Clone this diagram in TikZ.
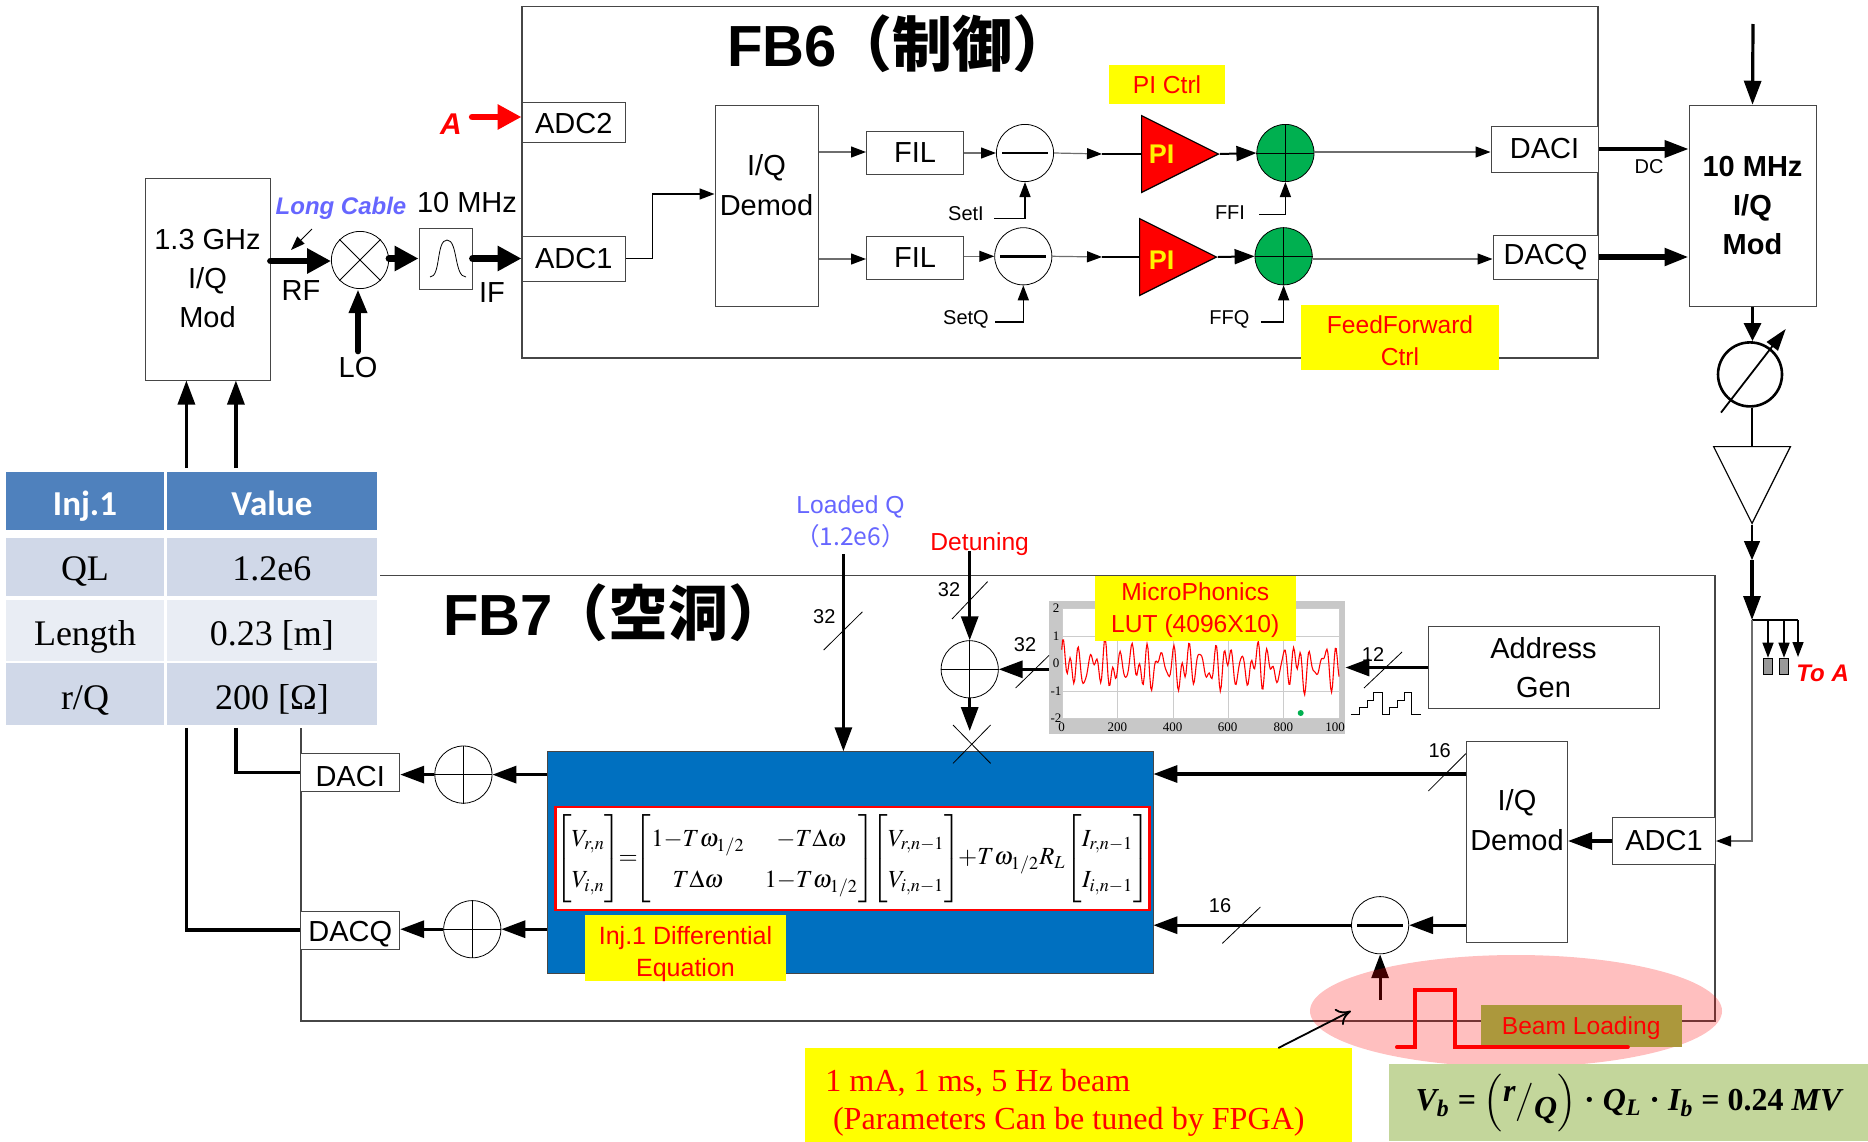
\documentclass[tikz,border=0pt]{standalone}
\usepackage{amsmath}
\usepackage{mathptmx}
\usepackage[no-math]{fontspec}
\setmainfont{Liberation Sans}
\newfontfamily\cjk{Noto Sans CJK JP}
\newfontfamily\cellfont{Liberation Serif}
\newfontfamily\headfont{Carlito}
\usetikzlibrary{
  shapes.geometric,
  arrows.meta,
  positioning,
  calc
}
\definecolor{framecolor}{RGB}{70, 70, 70}
\definecolor{linecolor}{RGB}{110, 110, 110}
\definecolor{notecolor}{RGB}{102, 102, 255}
\definecolor{sumcolor}{RGB}{0, 176, 80}
\definecolor{cavitycolor}{RGB}{0, 112, 192}
\definecolor{headcolor}{RGB}{79, 129, 189}
\definecolor{rowdark}{RGB}{208, 216, 232}
\definecolor{rowlight}{RGB}{233, 237, 244}
\definecolor{lutcolor}{RGB}{200, 200, 200}
\definecolor{beamtagcolor}{RGB}{172, 152, 60}
\definecolor{formulacolor}{RGB}{195, 214, 155}
\definecolor{tagyellow}{RGB}{255, 255, 0}
\begin{document}
\begin{tikzpicture}[
    x=0.5pt, y=-0.5pt,
    bigtext/.style={font=\fontsize{14.5}{19.5}\selectfont, align=center, inner sep=0pt},
    smalltext/.style={font=\fontsize{10}{12}\selectfont, inner sep=0pt},
    redtext/.style={font=\fontsize{12.3}{16}\selectfont, text=red, align=center, inner sep=0pt},
    notetext/.style={font=\fontsize{12.3}{16}\selectfont, text=notecolor, align=center, inner sep=0pt},
    toabel/.style={font=\bfseries\itshape\fontsize{15}{18}\selectfont, text=red, inner sep=0pt},
    titlelabel/.style={anchor=west, inner sep=0pt, font=\bfseries\fontsize{29}{32}\selectfont},
    framebox/.style={rectangle, draw=framecolor, line width=0.6pt, inner sep=0pt},
    blockbox/.style={rectangle, draw=framecolor, fill=white, line width=0.5pt, inner sep=0pt,
      font=\fontsize{14.5}{19.5}\selectfont, align=center},
    tagbox/.style={rectangle, fill=tagyellow, inner sep=0pt, text=red, align=center,
      font=\fontsize{12.3}{16}\selectfont},
    sumnode/.style={circle, draw=black, fill=white, line width=0.4pt, inner sep=0pt, minimum size=28.6pt},
    ampnode/.style={isosceles triangle, isosceles triangle stretches, draw=black, inner sep=0pt,
      minimum size=38.4pt, line width=0.6pt},
    cellbox/.style={rectangle, inner sep=0pt, font=\cellfont\fontsize{18}{20}\selectfont, text depth=4pt},
    headbox/.style={rectangle, fill=headcolor, text=white, inner sep=0pt, text height=19pt, text depth=4pt,
      font=\headfont\bfseries\fontsize{17.5}{20}\selectfont},
    thinline/.style={line width=0.6pt, draw=linecolor},
    thinarrow/.style={-{Triangle[length=7.5pt,width=5.5pt,color=black]}, line width=0.6pt, draw=linecolor},
    blackarrow/.style={-{Triangle[length=7.5pt,width=5.5pt]}, line width=0.7pt, draw=black},
    midarrow/.style={-{Triangle[length=12pt,width=8.5pt]}, line width=1.6pt, draw=black},
    boldarrow/.style={-{Triangle[length=12pt,width=12pt]}, line width=3.4pt, draw=black},
    heavyline/.style={line width=1.6pt, draw=black},
    slashmark/.style={line width=0.4pt, draw=black},
    minusbar/.style={line width=1.3pt, draw=black}
  ]
    \useasboundingbox (0,0) rectangle (1868,1141);

    % FB6
    \node[framebox, minimum width=538pt, minimum height=175.75pt] (fb6) at (1060,182.25) {};
    \node[titlelabel] (fb6title) at (727,44) {FB6\hspace{-2pt}{\cjk\fontsize{30}{32}\selectfont（制御）}};
    \node[blockbox, minimum width=51.75pt, minimum height=20pt, text height=12pt] (adc2) at (573.75,122) {ADC2};
    \node[blockbox, minimum width=51.75pt, minimum height=22.5pt] (adc1) at (573.75,258.5) {ADC1};
    \node[blockbox, minimum width=51.5pt, minimum height=100.75pt] (demoda) at (766.5,206) {};
    \node[bigtext, font=\fontsize{14.5}{20}\selectfont] (demodatext) at (766.5,185) {I/Q\\Demod};
    \node[blockbox, minimum width=48.5pt, minimum height=21.5pt] (fila) at (915,153) {FIL};
    \node[blockbox, minimum width=48.5pt, minimum height=21.5pt] (filb) at (915,257.5) {FIL};
    \node[sumnode] (suba) at (1025,153) {};
    \node[sumnode] (subb) at (1023.3,256.3) {};
    \node[ampnode, fill=red, anchor=lower side] (pia) at (1141,154) {};
    \node[ampnode, fill=red, anchor=lower side] (pib) at (1139,257) {};
    \node[inner sep=0pt, text=yellow, font=\bfseries\fontsize{13.5}{15}\selectfont] (piatext) at (1161.5,154.5) {PI};
    \node[inner sep=0pt, text=yellow, font=\bfseries\fontsize{13.5}{15}\selectfont] (pibtext) at (1161.5,260.5) {PI};
    \node[sumnode, fill=sumcolor] (adda) at (1285.4,153) {};
    \node[sumnode, fill=sumcolor] (addb) at (1283.6,256.3) {};
    \node[blockbox, minimum width=53.5pt, minimum height=23pt] (daca) at (1544.5,149) {DACI};
    \node[blockbox, minimum width=52.5pt, minimum height=22pt] (dacb) at (1545.5,257) {DACQ};
    \node[tagbox, minimum width=58pt, minimum height=19.3pt] (pitag) at (1167,84.3) {PI Ctrl};
    \node[smalltext] (seti) at (966,213.7) {SetI};
    \node[smalltext] (setq) at (966,319) {SetQ};
    \node[smalltext] (ffi) at (1230,212.6) {FFI};
    \node[smalltext] (ffq) at (1229.4,319) {FFQ};

    % FB6 wiring
    \draw[blackarrow] (adc1.east) -- ++(26.5,0) |- (demoda.west |- 0,194);
    \draw[thinarrow] (demoda.east |- 0,152) -- (fila.west |- 0,152);
    \draw[thinarrow] (demoda.east |- 0,259) -- (filb.west |- 0,259);
    \draw[thinarrow] (fila.east |- suba) -- (suba.west);
    \draw[thinarrow] (filb.east |- subb) -- (subb.west);
    \coordinate (pianchor) at (1102,154);
    \coordinate (pibnchor) at (1102,257);
    \draw[thinarrow] (suba.east) -- (pianchor);
    \draw[thinarrow] (subb.east) -- (pibnchor);
    \draw[line width=0.8pt] (pianchor) -- (pia.lower side);
    \draw[line width=0.8pt] (pibnchor) -- (pib.lower side);
    \draw[-{Triangle[length=10pt,width=7.5pt]}, line width=1pt] (pia.apex) -- (adda.west);
    \draw[-{Triangle[length=10pt,width=7.5pt]}, line width=1pt] (pib.apex) -- (addb.west);
    \draw[thinarrow] (adda.east |- 0,152) -- (daca.west |- 0,152);
    \draw[thinarrow] (addb.east |- 0,259) -- (dacb.west |- 0,259);
    \draw[blackarrow] (seti.east) ++(10,5) -| (suba.south);
    \draw[blackarrow] (setq.east) ++(6,3) -| (subb.south);
    \draw[blackarrow] (ffi.east) ++(14,2) -| (adda.south);
    \draw[blackarrow] (ffq.east) ++(11,3) -| (addb.south);
    \foreach \n in {suba,subb}
      \draw[minusbar] ($(\n.west)+(6,0)$) -- ($(\n.east)+(-6,0)$);
    \foreach \n in {adda,addb} {
      \draw[line width=0.5pt] (\n.west) -- (\n.east);
      \draw[line width=0.5pt] (\n.north) -- (\n.south);
    }
    \node[tagbox, minimum width=99pt, minimum height=32.35pt, text height=28pt, text depth=0pt] (fftag) at (1400,337.5) {FeedForward\\Ctrl};

    % RF input
    \node[blockbox, minimum width=62.5pt, minimum height=101pt] (modrf) at (207.5,279) {1.3 GHz\\I/Q\\Mod};
    \node[sumnode] (mixer) at (360,260) {};
    \draw[line width=0.4pt] (mixer.north west) -- (mixer.south east);
    \draw[line width=0.4pt] (mixer.north east) -- (mixer.south west);
    \node[blockbox, minimum width=26.5pt, minimum height=30.2pt] (filter) at (445.5,259) {};
    \draw[line width=0.4pt] (430,277) .. controls (441,277) and (436,240) .. (447,240) .. controls (458,240) and (454,277) .. (466,277);
    \node[bigtext] (tenmhz) at (467,203) {10 MHz};
    \node[bigtext] (rflabel) at (301,291) {RF};
    \node[bigtext] (iflabel) at (492,293) {IF};
    \node[bigtext] (lolabel) at (358,368) {LO};
    \node[inner sep=0pt, text=notecolor, font=\bfseries\itshape\fontsize{12}{14}\selectfont] (cablelabel) at (341,208) {Long Cable};
    \node[toabel] (alabel) at (451,124) {A};
    \coordinate (cabletail) at (312,229);
    \coordinate (cablehead) at (291,250);
    \draw[-{Triangle[length=7pt,width=5pt]}, line width=0.5pt] (cabletail) -- (cablehead);
    \draw[boldarrow, line cap=round] (modrf.east |- 0,261) -- (mixer.west |- 0,261);
    \draw[boldarrow, line cap=round] (mixer.east |- 0,258.5) -- (filter.west |- 0,258.5);
    \draw[boldarrow, line cap=round] (filter.east |- 0,258.5) -- (adc1.west);
    \draw[midarrow, line width=3pt, line cap=round] (lolabel.north) ++(0,-6) -- (mixer.south -| lolabel.north);
    \draw[boldarrow, draw=red, line cap=round] (alabel.east) ++(10,-7) -- (adc2.west |- 0,117);

    % IQ modulator and RF chain
    \node[blockbox, minimum width=63.5pt, minimum height=100.75pt, font=\bfseries\fontsize{14.5}{19.5}\selectfont] (mod) at (1752.5,206) {10 MHz\\I/Q\\Mod};
    \node[smalltext] (dclabel) at (1649,167) {DC};
    \coordinate (modtop) at (1753,24);
    \draw[midarrow] (modtop) -- (mod.north);
    \draw[-{Triangle[length=12pt,width=8.5pt]}, line width=2pt] (daca.east) -- (mod.west |- daca.east);
    \draw[-{Triangle[length=12pt,width=8.5pt]}, line width=2.6pt] (dacb.east) -- (mod.west |- dacb.east);
    \node[circle, draw=black, line width=1.3pt, inner sep=0pt, minimum size=32pt] (phase) at (1750,374.4) {};
    \draw[-{Triangle[length=9pt,width=8.5pt]}, line width=1.6pt] (mod.south) -- (mod.south |- phase.north);
    \draw[-{Triangle[length=11pt,width=7pt]}, line width=0.9pt] (1721,412.6) -- (1785.7,329);
    \node[ampnode, fill=white, shape border rotate=270, anchor=lower side] (amp) at (1752,446) {};
    \draw[line width=0.7pt] (phase.south -| amp.lower side) -- (amp.lower side);
    \coordinate (ampmid) at (1752,560);
    \coordinate (branch) at (1752,620);
    \draw[midarrow, line width=0.7pt, -{Triangle[length=9.5pt,width=8pt]}] (amp.apex) -- (ampmid);
    \draw[midarrow] (ampmid) -- (branch);
    \coordinate (branchend) at (1798,620);
    \draw[thinline, draw=black] (branch) -- (branchend);
    \node[rectangle, draw=black, fill=gray!80, line width=0.3pt, minimum width=4.5pt, minimum height=8pt, inner sep=0pt] (toa) at (1768,666) {};
    \node[rectangle, draw=black, fill=gray!80, line width=0.3pt, minimum width=4.5pt, minimum height=8pt, inner sep=0pt] (tob) at (1784,666) {};
    \node[toabel, anchor=west, font=\bfseries\itshape\fontsize{12}{14}\selectfont] (toalabel) at (1796,673) {To A};
    \draw[blackarrow] (1768,620) -- (toa.north);
    \draw[blackarrow] (1784,620) -- (tob.north);
    \draw[blackarrow] (branchend) -- ++(0,37);

    % FB7
    \node[framebox, minimum width=707pt, minimum height=222.75pt] (fb7) at (1007.9,798.25) {};
    \node[titlelabel] (fb7title) at (443,613) {FB7\hspace{-2pt}{\cjk\fontsize{30}{32}\selectfont（空洞）}};
    \node[rectangle, fill=white, inner sep=0pt, minimum width=187pt, minimum height=129pt] (tablebg) at (193,598.5) {};

    % parameter table
    \node[headbox, minimum width=79pt, minimum height=29.25pt] (inj) at (85,500.75) {Inj.1};
    \node[headbox, minimum width=105.1pt, minimum height=29.25pt] (val) at (271.9,500.75) {Value};
    \node[cellbox, fill=rowdark, minimum width=79pt, minimum height=29pt, text height=17pt] (ql) at (85,567) {QL};
    \node[cellbox, fill=rowdark, minimum width=105.1pt, minimum height=29pt, text height=17pt] (qlval) at (271.9,567) {1.2e6};
    \node[cellbox, fill=rowlight, minimum width=79pt, minimum height=30.5pt, text height=19pt] (len) at (85,630) {Length};
    \node[cellbox, fill=rowlight, minimum width=105.1pt, minimum height=30.5pt, text height=19pt] (lenval) at (271.9,630) {0.23 [m]};
    \node[cellbox, fill=rowdark, minimum width=79pt, minimum height=30.9pt, text height=20pt] (rq) at (85,693.6) {r/Q};
    \node[cellbox, fill=rowdark, minimum width=105.1pt, minimum height=30.9pt, text height=20pt] (rqval) at (271.9,693.6) {200 [Ω]};

    % table to modulator
    \coordinate (upa) at (186.4,468);
    \coordinate (upb) at (235.9,468);
    \draw[midarrow] (upa) -- (upa |- modrf.south);
    \draw[midarrow] (upb) -- (upb |- modrf.south);

    % cavity model
    \node[rectangle, draw=framecolor, fill=cavitycolor, minimum width=303pt, minimum height=110.85pt, inner sep=0pt] (cavity) at (850,862.5) {};
    \node[rectangle, draw=red, fill=white, line width=1.3pt, minimum width=295.5pt, minimum height=51.5pt, inner sep=0pt] (eqbox) at (852.5,858.5)
      {\fontsize{12.3}{15}\selectfont\def\arraystretch{1.39}\thickmuskip=0mu\medmuskip=0mu$\begin{bmatrix}V_{r,n}\\V_{i,n}\end{bmatrix}\!=\!\begin{bmatrix}1-T\omega_{1/2} & -T\Delta\omega\\ T\Delta\omega & 1-T\omega_{1/2}\end{bmatrix}\!\!\begin{bmatrix}V_{r,n-1}\\V_{i,n-1}\end{bmatrix}\!+T\omega_{1/2}R_L\!\begin{bmatrix}I_{r,n-1}\\I_{i,n-1}\end{bmatrix}$};
    \node[tagbox, minimum width=100.5pt, minimum height=32.7pt, text height=28.6pt, text depth=0pt, font=\fontsize{12.5}{16}\selectfont] (eqtag) at (685.5,948) {Inj.1 Differential\\Equation};

    % cavity outputs
    \node[blockbox, minimum width=49.5pt, minimum height=19pt, text height=14pt] (dacc) at (350.2,772.3) {DACI};
    \node[blockbox, minimum width=49.5pt, minimum height=19pt, text height=14pt] (dacd) at (350.2,930) {DACQ};
    \node[sumnode] (addc) at (463.4,774.6) {};
    \node[sumnode] (addd) at (472.3,929.2) {};
    \foreach \n in {addc,addd} {
      \draw[line width=0.4pt] (\n.west) -- (\n.east);
      \draw[line width=0.4pt] (\n.north) -- (\n.south);
    }
    \draw[midarrow] (cavity.west |- addc) -- (addc.east);
    \draw[midarrow] (cavity.west |- addd) -- (addd.east);
    \draw[midarrow] (addc.west) -- (dacc.east |- addc);
    \draw[midarrow] (addd.west) -- (dacd.east |- addd);
    \draw[heavyline] (upb |- tablebg.south) |- (dacc.west);
    \draw[heavyline] (upa |- tablebg.south) |- (dacd.west);

    % loaded Q and detuning
    \node[notetext] (qlabel) at (850.5,522) {Loaded Q\\{\cjk（1.2e6）}};
    \node[redtext, text depth=0pt] (detlabel) at (979.7,542) {Detuning};
    \coordinate (qtail) at (843.4,554);
    \draw[midarrow] (qtail) -- (qtail |- cavity.north);
    \draw[slashmark] (823.7,650) -- (862.4,611.8);
    \node[smalltext] (qbits) at (824.3,616.5) {32};
    \node[sumnode] (addl) at (969.7,669.3) {};
    \draw[line width=0.4pt] (addl.west) -- (addl.east);
    \draw[line width=0.4pt] (addl.north) -- (addl.south);
    \coordinate (dettail) at (969.7,551.4);
    \draw[midarrow] (dettail) -- (addl.north);
    \draw[slashmark] (952,619) -- (987.6,581.6);
    \node[smalltext] (detbits) at (949,590) {32};
    \coordinate (lutout) at (969.7,731);
    \draw[midarrow] (addl.south) -- (lutout);
    \draw[slashmark] (953,725) -- (990.6,763.4);
    \draw[slashmark] (990.6,725) -- (953,763.4);

    % microphonics table
    \node[rectangle, fill=lutcolor, minimum width=148pt, minimum height=66.5pt, inner sep=0pt] (lut) at (1197,667.5) {};
    \node[rectangle, fill=white, minimum width=138.65pt, minimum height=55.5pt, inner sep=0pt] (lutplot) at (1200.35,663.5) {};
    \foreach \gx in {1061.7,1117.3,1172.7,1227.7,1283.3,1339}
      \draw[line width=0.2pt, draw=black!20] (\gx,608.3) -- (\gx,718.3);
    \foreach \gy in {608.3,635.7,663,690.7,718.3}
      \draw[line width=0.2pt, draw=black!20] (1061.7,\gy) -- (1339,\gy);
    \draw[red, line width=0.55pt] plot[domain=0:1000, samples=300]
      ({1061.7+0.2773*\x},{663+27.4*(0.12-0.42*sin(7.3*\x+20)-0.34*sin(11.7*\x+70)-0.26*sin(14.3*\x+10)-0.16*sin(3.1*\x+40))});
    \fill[sumcolor] (1300.7,713) circle (1.5pt);
    \foreach \tx/\tl in {1061.7/0,1117.3/200,1172.7/400,1227.7/600,1283.3/800,1335/100}
      \node[inner sep=0pt, font=\cellfont\fontsize{6.5}{7}\selectfont] (xt\tl) at (\tx,727) {\tl};
    \foreach \ty/\tl in {608.3/2,635.7/1,663/0,690.7/-1,718.3/-2}
      \node[inner sep=0pt, font=\cellfont\fontsize{6.5}{7}\selectfont] (yt\tl) at (1056,\ty) {\tl};
    \node[tagbox, minimum width=100.3pt, minimum height=32.5pt, text depth=0pt] (luttag) at (1195.3,608) {MicroPhonics\\LUT (4096X10)};
    \draw[midarrow] (lut.west |- addl) -- (addl.east);
    \draw[slashmark] (1015.6,688) -- (1049,655.4);
    \node[smalltext] (lutbits) at (1025,644.5) {32};

    % address generator
    \node[blockbox, minimum width=115.5pt, minimum height=41.25pt] (addr) at (1543.5,667.5) {Address\\Gen};
    \draw[midarrow] (addr.west) -- (lut.east |- addr.west);
    \draw[slashmark] (1364,688) -- (1402,652);
    \node[smalltext] (addrbits) at (1373,654.7) {12};
    \draw[line width=0.4pt] (1350.9,714.7) -- (1359.3,714.7) -- (1359.3,707.4) -- (1367.6,707.4) -- (1367.6,700.1) -- (1373.5,700.1) -- (1373.5,692.1) -- (1381.9,692.1) -- (1381.9,714.7)
      -- (1389.6,714.7) -- (1389.6,707.4) -- (1397.4,707.4) -- (1397.4,700.1) -- (1404.5,700.1) -- (1404.5,692.1) -- (1411.7,692.1) -- (1411.7,714.7) -- (1421.2,714.7);

    % receive path
    \node[blockbox, minimum width=50.5pt, minimum height=100.5pt] (demodb) at (1517,842) {};
    \node[bigtext, font=\fontsize{14.5}{20}\selectfont] (demodbtext) at (1517,820.5) {I/Q\\Demod};
    \node[blockbox, minimum width=51.5pt, minimum height=23.3pt] (adcb) at (1664,841) {ADC1};
    \node[sumnode] (subc) at (1380.1,925.2) {};
    \draw[minusbar] ($(subc.west)+(6,0)$) -- ($(subc.east)+(-6,0)$);
    \draw[thinarrow] (branch) |- (adcb.east);
    \draw[midarrow] (adcb.west) -- (demodb.east |- adcb.west);
    \draw[midarrow] (demodb.west |- 0,774) -- (cavity.east |- 0,774);
    \draw[midarrow] (demodb.west |- subc) -- (subc.east);
    \draw[midarrow] (subc.west) -- (cavity.east |- subc);
    \draw[slashmark] (1428.3,791) -- (1465.9,753.6);
    \node[smalltext] (demodbits) at (1439.7,750.7) {16};
    \draw[slashmark] (1222.3,943.4) -- (1260.4,907);
    \node[smalltext] (subbits) at (1220,905.5) {16};

    % beam loading
    \coordinate (beamtail) at (1380.1,1000);
    \draw[midarrow] (beamtail) -- (subc.south);
    \node[ellipse, fill=red, fill opacity=0.25, minimum width=206pt, minimum height=56pt, inner sep=0pt] (beamspot) at (1516,1011) {};
    \node[rectangle, fill=beamtagcolor, text=red, minimum width=100.35pt, minimum height=20.55pt, inner sep=0pt, text depth=0pt, font=\fontsize{12.3}{16}\selectfont] (beamtag) at (1581.15,1026) {Beam Loading};
    \draw[red, line width=1.8pt, line cap=round] (1396.8,1047.2) -- (1415.2,1047.2) -- (1415.2,990) -- (1455,990) -- (1455,1047.2) -- (1628,1047.2);
    \node[rectangle, fill=tagyellow, minimum width=273.15pt, minimum height=47pt, inner sep=0pt] (beamnote) at (1078.4,1094.5) {};
    \node[anchor=west, inner sep=0pt, text=red, font=\cellfont\fontsize{16.05}{20}\selectfont] (beamnotea) at (825,1082.6) {1 mA, 1 ms, 5 Hz beam};
    \node[anchor=west, inner sep=0pt, text=red, font=\cellfont\fontsize{16.05}{20}\selectfont] (beamnoteb) at (832.6,1121.6) {(Parameters Can be tuned by FPGA)};
    \draw[-{To[length=7pt,width=9pt]}, line width=0.9pt] (1278.3,1048) -- (1350.9,1011);
    \node[rectangle, fill=formulacolor, minimum width=239.5pt, minimum height=38.6pt, inner sep=0pt, font=\cellfont\bfseries\itshape\fontsize{16}{18}\selectfont] (formula) at (1628.5,1102.7)
      {V\textsubscript{b} {\upshape=} $\Bigl($\raisebox{4.5pt}{r}$\big/$\raisebox{-4pt}{Q}$\Bigr)$ {\upshape·} Q\textsubscript{L} {\upshape·} I\textsubscript{b} {\upshape= 0.24} MV};
\end{tikzpicture}
\end{document}
